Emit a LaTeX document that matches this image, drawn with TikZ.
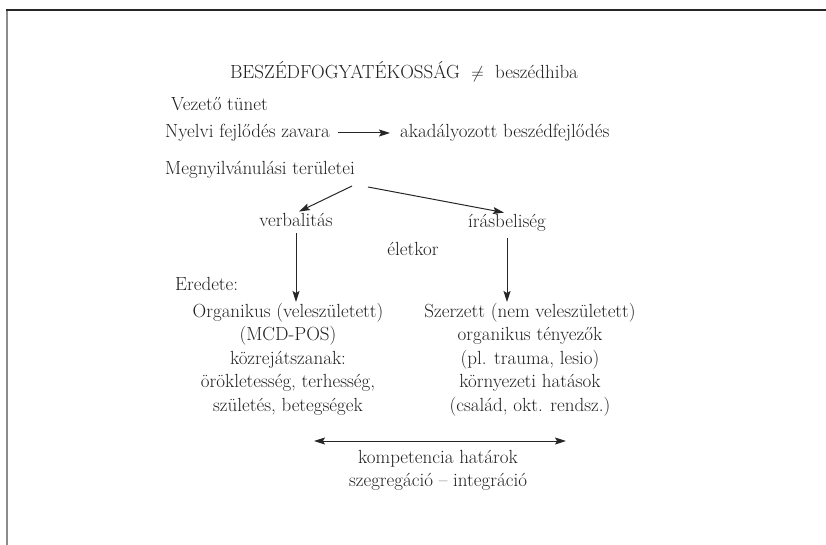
\documentclass[tikz,border=0pt]{standalone}
\usetikzlibrary{arrows.meta}
\begin{document}
\begin{tikzpicture}[x=1pt,y=-1pt,
  txt/.style={inner sep=1pt,text=black!88,font=\fontsize{19}{23.5}\selectfont},
  blk/.style={txt,align=center},
  tip/.tip={Stealth[length=11pt,width=7pt,inset=2pt]},
  arr/.style={-tip,line width=1pt,black!85},
  darr/.style={tip-tip,line width=1pt,black!85}]
\useasboundingbox (0,0) rectangle (826,545);
% frame
\draw[line width=2pt,black!45] (7,10) -- (7,545);
\draw[line width=1.3pt,black!85] (6,10) -- (826,10);
% texts
\node[txt] (title) at (404,72) {BESZÉDFOGYATÉKOSSÁG\ \ $\neq$\ \ beszédhiba};
\node[txt,anchor=west] (vez) at (170,104) {Vezető tünet};
\node[txt,anchor=west] (nyelv) at (164,133) {Nyelvi fejlődés zavara};
\node[txt,anchor=west] (akad) at (399,133) {akadályozott beszédfejlődés};
\node[txt,anchor=west] (megny) at (164,170) {Megnyilvánulási területei};
\node[txt,anchor=base] (verb) at (296,226) {verbalitás};
\node[txt,anchor=base] (iras) at (507,227) {írásbeliség};
\node[txt,anchor=base] (elet) at (413,255) {életkor};
\node[txt,anchor=west] (ered) at (174,284) {Eredete:};
\node[blk,anchor=north] (lblk) at (288,302) {Organikus (veleszületett)\\(MCD-POS)\\közrejátszanak:\\örökletesség, terhesség,\\születés, betegségek};
\node[blk,anchor=north] (rblk) at (530,302) {Szerzett (nem veleszületett)\\organikus tényezők\\(pl. trauma, lesio)\\környezeti hatások\\(család, okt. rendsz.)};
\node[blk,anchor=north] (komp) at (438,449) {kompetencia határok\\szegregáció -- integráció};
% connectors
\coordinate (m1) at (352,186);
\coordinate (m2) at (368,187);
\draw[arr] ([xshift=7pt]nyelv.east) -- ([xshift=-9pt]akad.west);
\draw[arr] (m1) -- ([xshift=3pt]verb.north);
\draw[arr] (m2) -- ([xshift=-3pt]iras.north);
\draw[arr] ([yshift=-6pt]verb.south) -- (verb.south |- lblk.north);
\draw[arr] ([yshift=-6pt]iras.south) -- (iras.south |- rblk.north);
\coordinate (dl) at (314,441);
\coordinate (dr) at (566,441);
\draw[darr] (dl) -- (dr);
\end{tikzpicture}
\end{document}
